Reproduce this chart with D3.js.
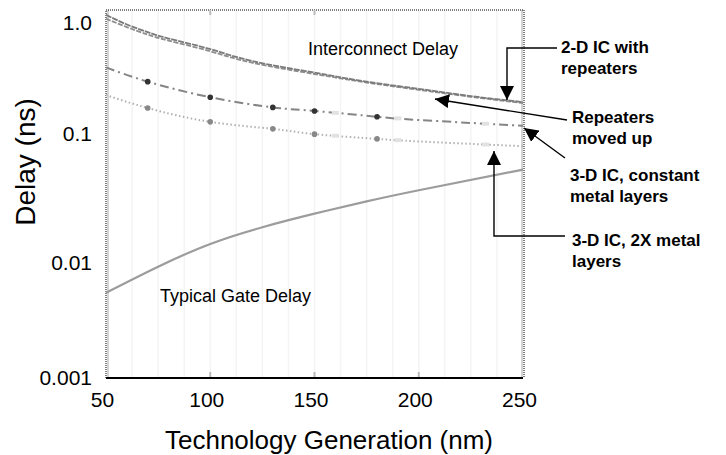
<!DOCTYPE html>
<html lang="en">
<head>
  <meta charset="UTF-8">
  <title>Delay vs Technology Generation</title>
  <script src="https://d3js.org/d3.v7.min.js"></script>
  <style>
    body { margin: 0; background: #fff; }
    svg { font-family: "Liberation Sans", Arial, sans-serif; }
    .tick text { font-size: 21px; fill: #000; }
    .note { font-size: 18px; fill: #000; }
    .callout { font-size: 17px; font-weight: bold; fill: #000; }
    .arrow { stroke: #000; stroke-width: 1.4px; fill: none; }
  </style>
</head>
<body>
<svg id="chart" width="726" height="455"></svg>
<script>
  // values (nm, ns)
  const xTicks = [50, 100, 150, 200, 250];
  const yTicks = [0.001, 0.01, 0.1, 1];
  const yTickLabels = ["0.001", "0.01", "0.1", "1.0"];

  const wire2D = [[50, 1.16], [60, 0.95], [70, 0.81], [80, 0.71], [100, 0.57], [120, 0.445],
                  [150, 0.35], [175, 0.29], [200, 0.25], [225, 0.215], [250, 0.19]];
  const movedUp = [[50, 1.07], [60, 0.9], [70, 0.77], [80, 0.68], [100, 0.545], [120, 0.43],
                   [150, 0.34], [175, 0.285], [200, 0.245], [225, 0.212], [250, 0.186]];
  const ic3Dconst = [[50, 0.39], [70, 0.29], [100, 0.21], [130, 0.17], [150, 0.158],
                     [180, 0.14], [200, 0.131], [250, 0.116]];
  const ic3D2x = [[50, 0.22], [70, 0.168], [100, 0.126], [130, 0.109], [150, 0.098],
                  [180, 0.09], [200, 0.086], [250, 0.079]];
  const gateDelay = [[50, 0.0054], [75, 0.0091], [100, 0.0138], [125, 0.0186], [150, 0.0237],
                     [175, 0.0295], [200, 0.036], [250, 0.052]];

  // marker spots on the 3-D curves
  const markerNm = [70, 100, 130, 150, 180];
  const faintMarkerNm = [160, 190, 232];

  const svg = d3.select("#chart");
  const plotLeft = 106, plotRight = 523, plotTop = 10, plotBottom = 378;

  const x = d3.scaleLinear().domain([50, 250]).range([plotLeft, plotRight]);
  // the scanned axis has uneven decades, so map each decade separately
  const y = d3.scaleLog().domain([0.001, 0.01, 0.1, 1]).range([377, 262, 133, 22]);

  // faint background grid
  const grid = svg.append("g");
  grid.selectAll("line.v").data(d3.range(62.5, 250, 12.5))
    .join("line").attr("class", "v")
    .attr("x1", d => x(d)).attr("x2", d => x(d))
    .attr("y1", plotTop).attr("y2", plotBottom)
    .attr("stroke", "#f4f4f4").attr("stroke-width", 1.5);

  // plot frame: dotted top/left/right, solid bottom
  svg.append("line").attr("x1", plotLeft + 2).attr("x2", plotLeft + 2).attr("y1", plotTop).attr("y2", plotBottom)
    .attr("stroke", "#d4d4d4").attr("stroke-width", 2);
  svg.append("line").attr("x1", plotRight - 1).attr("x2", plotRight - 1).attr("y1", plotTop).attr("y2", plotBottom)
    .attr("stroke", "#d4d4d4").attr("stroke-width", 2);
  svg.append("path")
    .attr("d", `M${plotLeft},${plotBottom}V${plotTop}H${plotRight + 1}V${plotBottom}`)
    .attr("fill", "none").attr("stroke", "#000").attr("stroke-width", 1)
    .attr("stroke-dasharray", "1,1");

  // short grey ticks at the major x positions
  svg.selectAll("line.xt").data([100, 150, 200])
    .join("line").attr("class", "xt")
    .attr("x1", d => x(d)).attr("x2", d => x(d))
    .attr("y1", plotBottom - 6).attr("y2", plotBottom)
    .attr("stroke", "#bbb").attr("stroke-width", 2);
  svg.selectAll("line.xtt").data([100, 150])
    .join("line").attr("class", "xtt")
    .attr("x1", d => x(d)).attr("x2", d => x(d))
    .attr("y1", plotTop).attr("y2", plotTop + 5)
    .attr("stroke", "#bbb").attr("stroke-width", 2);

  // axes
  const xAxis = svg.append("g").attr("transform", `translate(0,${plotBottom})`)
    .call(d3.axisBottom(x).tickValues(xTicks).tickSize(0).tickPadding(14).tickFormat(d3.format("d")));
  xAxis.select(".domain").remove();
  xAxis.selectAll("text").attr("dx", -4);
  svg.append("line").attr("x1", plotLeft).attr("x2", plotRight).attr("y1", plotBottom).attr("y2", plotBottom)
    .attr("stroke", "#000").attr("stroke-width", 2.2);

  const yAxis = svg.append("g").attr("transform", `translate(${plotLeft},0)`)
    .call(d3.axisLeft(y).tickValues(yTicks).tickSize(0).tickPadding(14)
      .tickFormat((d, i) => yTickLabels[i]));
  yAxis.select(".domain").remove();
  yAxis.selectAll("text").attr("dy", "0.36em");

  // axis titles
  svg.append("text")
    .attr("x", 329).attr("y", 449)
    .attr("text-anchor", "middle").style("font-size", "26px")
    .text("Technology Generation (nm)");
  svg.append("text")
    .attr("transform", "translate(35,162) rotate(-90)")
    .attr("text-anchor", "middle").style("font-size", "28px")
    .text("Delay (ns)");

  // curves
  const line = d3.line().x(d => x(d[0])).y(d => y(d[1])).curve(d3.curveNatural);
  const plot = svg.append("g");

  plot.append("path").datum(movedUp).attr("d", line)
    .attr("fill", "none").attr("stroke", "#8e8e8e").attr("stroke-width", 1.8)
    .attr("stroke-dasharray", "5,1.5");
  plot.append("path").datum(wire2D).attr("d", line)
    .attr("fill", "none").attr("stroke", "#7a7a7a").attr("stroke-width", 1.8)
    .attr("stroke-dasharray", "6,1");

  plot.append("path").datum(ic3Dconst).attr("d", line)
    .attr("fill", "none").attr("stroke", "#858585").attr("stroke-width", 2)
    .attr("stroke-dasharray", "9,4,2,4");
  plot.append("path").datum(ic3D2x).attr("d", line)
    .attr("fill", "none").attr("stroke", "#b0b0b0").attr("stroke-width", 2)
    .attr("stroke-dasharray", "1.5,2.5");

  plot.append("path").datum(gateDelay).attr("d", line)
    .attr("fill", "none").attr("stroke", "#9c9c9c").attr("stroke-width", 2.2);

  // markers sit on the curves: log-interpolate between the read points
  function valueAt(series, nm) {
    const xs = series.map(d => d[0]);
    const i = Math.min(series.length - 1, Math.max(1, d3.bisectLeft(xs, nm)));
    const a = series[i - 1], b = series[i];
    const t = (nm - a[0]) / (b[0] - a[0]);
    return Math.exp(Math.log(a[1]) + t * (Math.log(b[1]) - Math.log(a[1])));
  }
  [[ic3Dconst, "#333"], [ic3D2x, "#888"]].forEach(([s, c]) => {
    plot.append("g").selectAll("circle").data(markerNm).join("circle")
      .attr("cx", d => x(d)).attr("cy", d => y(valueAt(s, d)))
      .attr("r", 2.8).attr("fill", c);
    plot.append("g").selectAll("rect").data(faintMarkerNm).join("rect")
      .attr("x", d => x(d) - 3.5).attr("y", d => y(valueAt(s, d)) - 2)
      .attr("width", 7).attr("height", 4).attr("fill", "#e2e2e2");
  });

  // labels inside plot
  svg.append("text").attr("class", "note").attr("x", 383).attr("y", 55)
    .attr("text-anchor", "middle").text("Interconnect Delay");
  svg.append("text").attr("class", "note").attr("x", 160).attr("y", 302)
    .text("Typical Gate Delay");

  // arrowheads
  svg.append("defs").append("marker")
    .attr("id", "head").attr("viewBox", "0 0 10 10")
    .attr("refX", 10).attr("refY", 5)
    .attr("markerWidth", 10).attr("markerHeight", 10)
    .attr("markerUnits", "strokeWidth")
    .attr("orient", "auto")
    .append("path").attr("d", "M0,0L10,5L0,10Z").attr("fill", "#000");

  svg.append("path").attr("class", "arrow")
    .attr("d", "M557,48H507V100").attr("marker-end", "url(#head)");
  svg.append("path").attr("class", "arrow")
    .attr("d", "M567,120L435,99").attr("marker-end", "url(#head)");
  svg.append("path").attr("class", "arrow")
    .attr("d", "M565,158L524,128").attr("marker-end", "url(#head)");
  svg.append("path").attr("class", "arrow")
    .attr("d", "M565,236H494V151").attr("marker-end", "url(#head)");

  // callout labels
  const callouts = [
    [561, 53, ["2-D IC with", "repeaters"]],
    [572, 123, ["Repeaters", "moved up"]],
    [570, 181, ["3-D IC, constant", "metal layers"]],
    [572, 246, ["3-D IC, 2X metal", "layers"]]
  ];
  callouts.forEach(([cx, cy, lines]) => {
    const t = svg.append("text").attr("class", "callout").attr("x", cx).attr("y", cy);
    lines.forEach((s, i) => t.append("tspan").attr("x", cx).attr("dy", i ? 21 : 0).text(s));
  });
</script>
</body>
</html>
